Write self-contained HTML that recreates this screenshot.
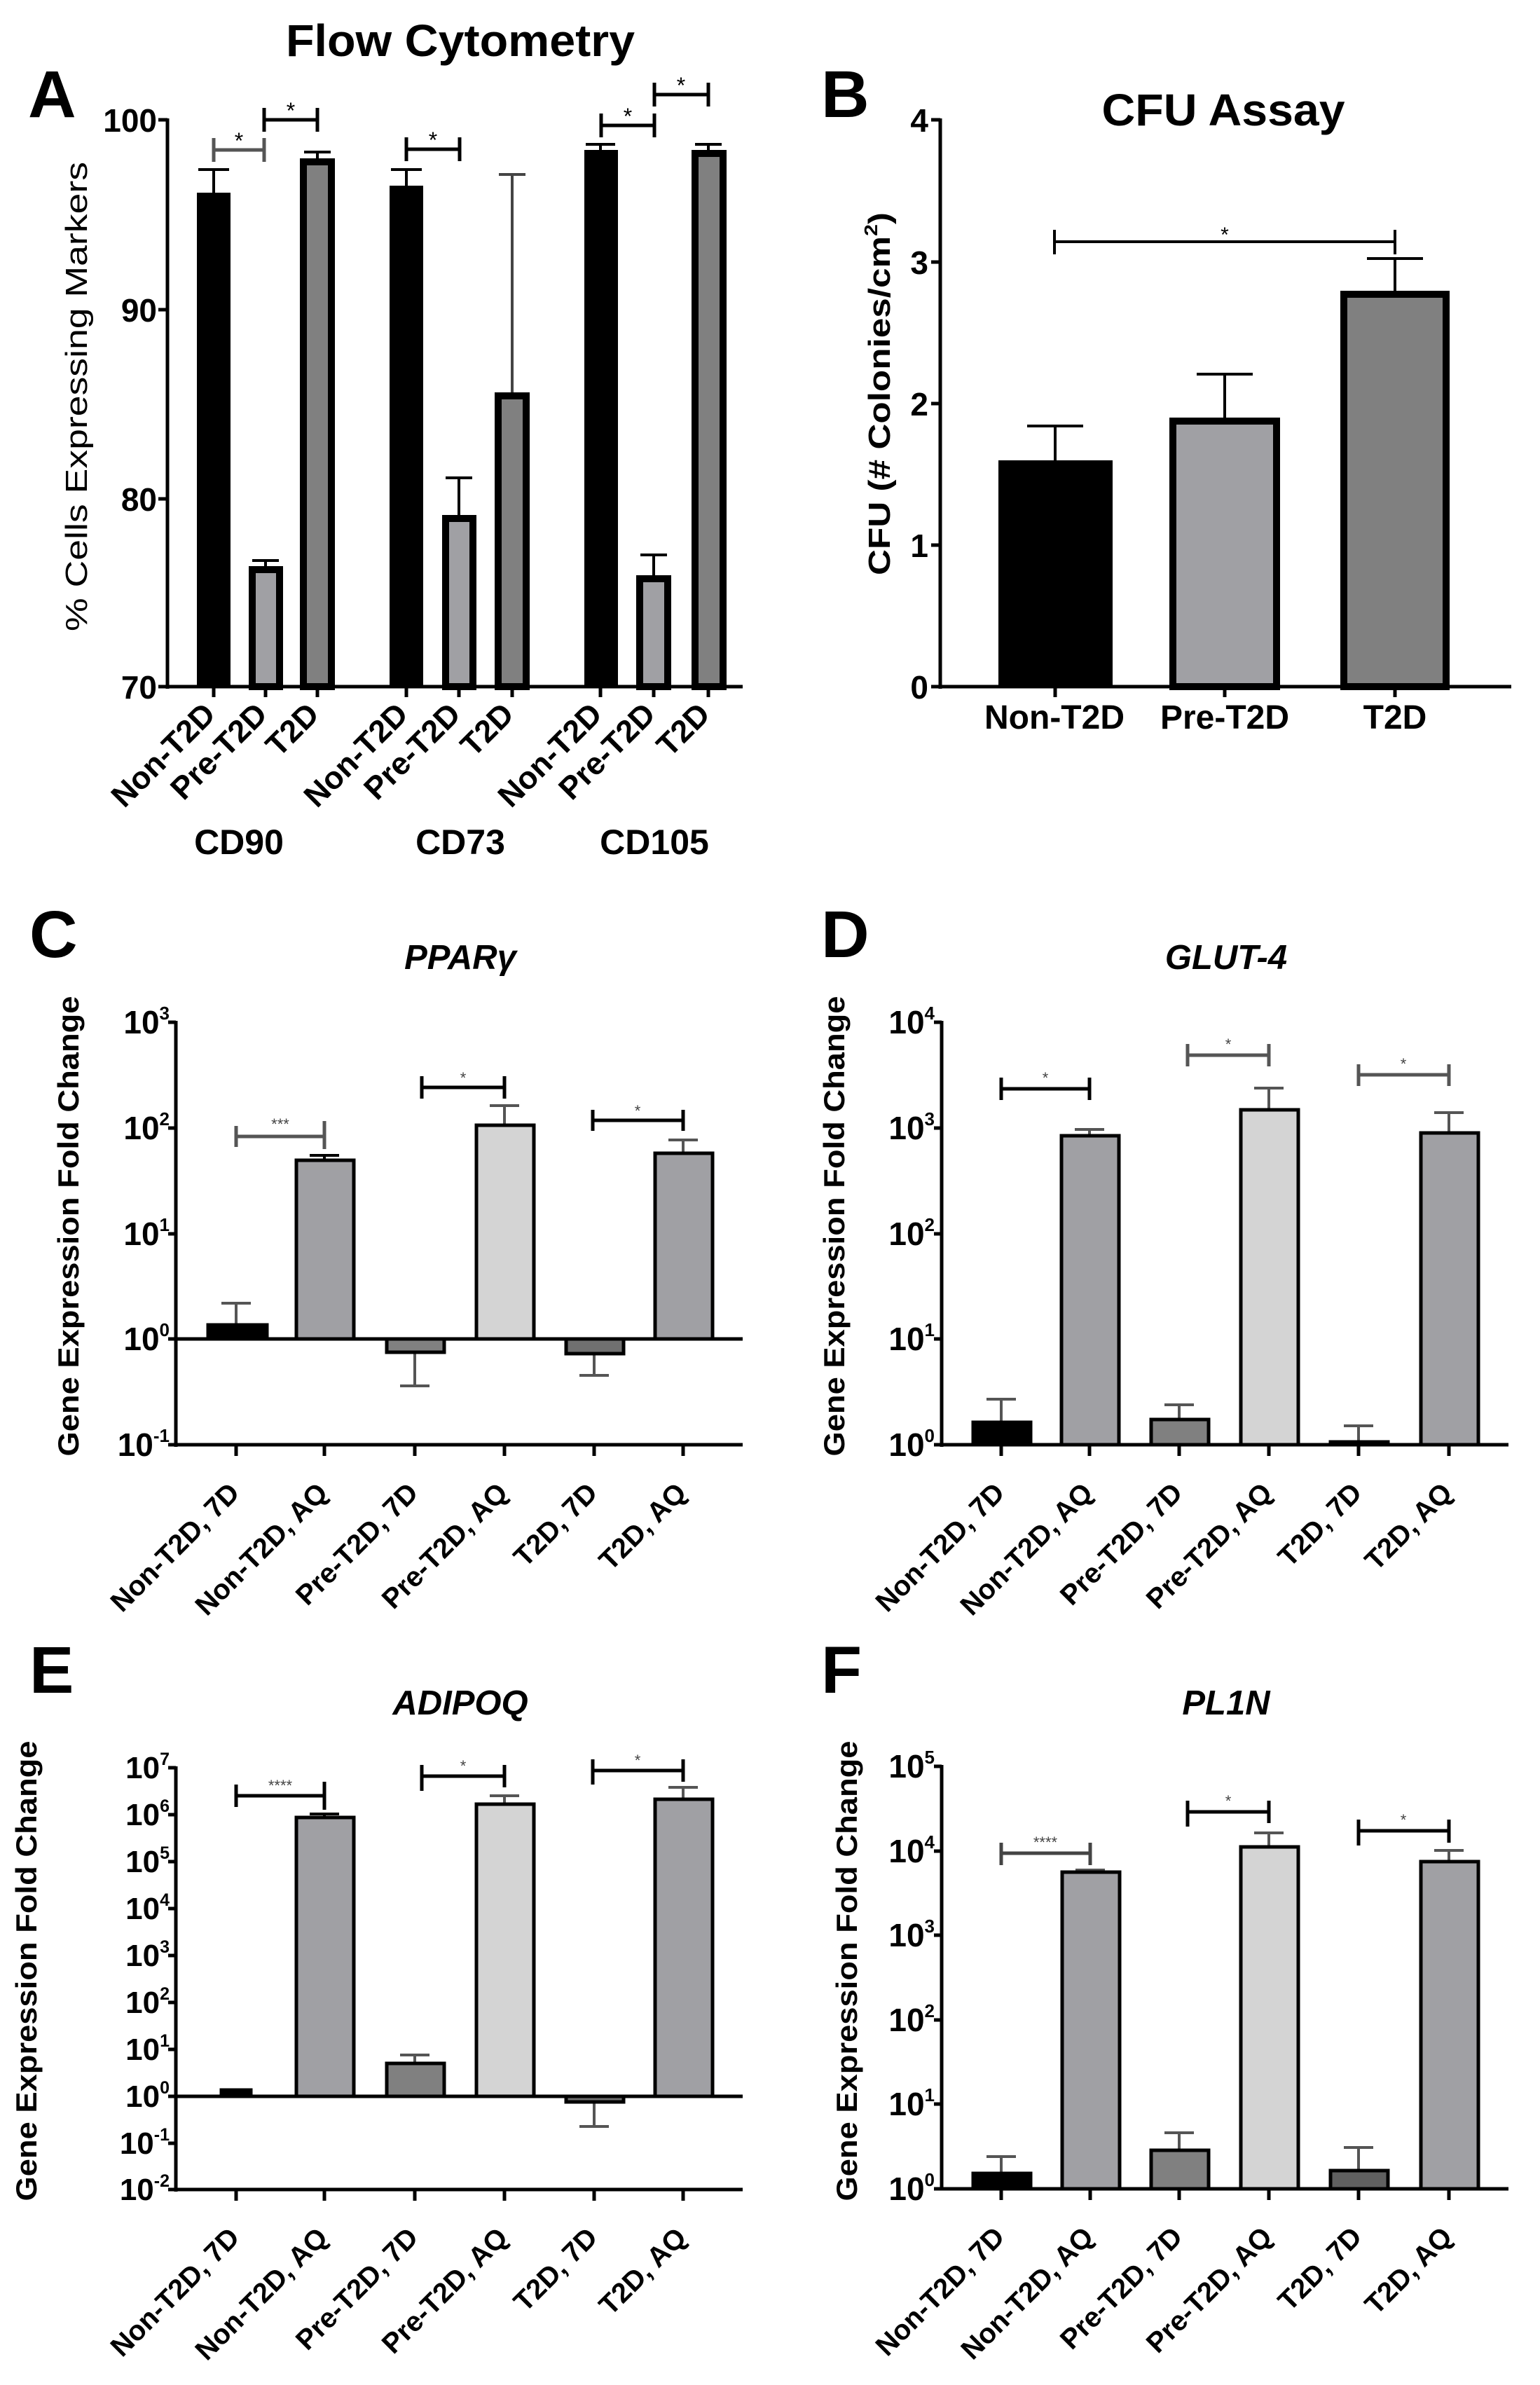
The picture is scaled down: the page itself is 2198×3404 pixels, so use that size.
<!DOCTYPE html>
<html><head><meta charset="utf-8"><style>html,body{margin:0;padding:0;background:#fff}svg{display:block}text{font-family:"Liberation Sans",Arial,sans-serif}</style></head>
<body>
<svg xmlns="http://www.w3.org/2000/svg" width="2198" height="3404" viewBox="0 0 2198 3404">
<rect width="2198" height="3404" fill="#fff"/>
<g font-weight="bold" font-size="95" fill="#000">
<text x="40" y="167">A</text><text x="1172" y="167">B</text>
<text x="42" y="1366">C</text><text x="1172" y="1366">D</text>
<text x="42" y="2416">E</text><text x="1172" y="2416">F</text>
</g>

<!-- Panel A -->
<text x="657" y="80" font-size="64" font-weight="bold" text-anchor="middle" textLength="498" lengthAdjust="spacingAndGlyphs">Flow Cytometry</text>
<g stroke="#000" fill="none" stroke-width="5">
<path d="M239 169V983M236 980H1060"/>
<path d="M226 171H239M226 442H239M226 712H239M226 980H239"/>
<path d="M305 980V995M379 980V995M453 980V995M580 980V995M655 980V995M731 980V995M857 980V995M933 980V995M1011 980V995"/>
</g>
<g font-size="46" font-weight="bold" text-anchor="end">
<text x="224" y="188">100</text><text x="224" y="459">90</text><text x="224" y="729">80</text><text x="224" y="997">70</text>
</g>
<text transform="translate(124,566) rotate(-90)" font-size="44" text-anchor="middle" textLength="670" lengthAdjust="spacingAndGlyphs">% Cells Expressing Markers</text>
<g stroke="#000" stroke-width="4">
<line x1="305" y1="275" x2="305" y2="242"/><line x1="283" y1="242" x2="327" y2="242"/>
<line x1="379" y1="808" x2="379" y2="800"/><line x1="360" y1="800" x2="398" y2="800"/>
<line x1="453" y1="226" x2="453" y2="217"/><line x1="434" y1="217" x2="472" y2="217"/>
<line x1="580" y1="265" x2="580" y2="242"/><line x1="558" y1="242" x2="602" y2="242"/>
<line x1="655" y1="735" x2="655" y2="682"/><line x1="636" y1="682" x2="674" y2="682"/>
<line x1="731" y1="560" x2="731" y2="249" stroke="#444"/><line x1="712" y1="249" x2="750" y2="249" stroke="#444"/>
<line x1="857" y1="214" x2="857" y2="206"/><line x1="836" y1="206" x2="878" y2="206"/>
<line x1="933" y1="821" x2="933" y2="792"/><line x1="914" y1="792" x2="952" y2="792"/>
<line x1="1011" y1="214" x2="1011" y2="206"/><line x1="992" y1="206" x2="1030" y2="206"/>
</g>
<g stroke="#000" stroke-width="10">
<rect x="281" y="275" width="48" height="705" fill="#000" stroke="none"/>
<rect x="360" y="813" width="39" height="167" fill="#a0a0a4"/>
<rect x="433" y="231" width="40" height="749" fill="#808080"/>
<rect x="556" y="265" width="48" height="715" fill="#000" stroke="none"/>
<rect x="636" y="740" width="39" height="240" fill="#a0a0a4"/>
<rect x="711" y="565" width="40" height="415" fill="#808080"/>
<rect x="834" y="214" width="48" height="766" fill="#000" stroke="none"/>
<rect x="913" y="826" width="40" height="154" fill="#a0a0a4"/>
<rect x="992" y="219" width="40" height="761" fill="#808080"/>
</g>
<g stroke="#000" stroke-width="5" fill="none">
<path d="M305 214H377M305 197V231M377 197V231" stroke="#555"/>
<path d="M377 171H453M377 154V188M453 154V188"/>
<path d="M580 213H656M580 196V230M656 196V230"/>
<path d="M858 179H934M858 162V196M934 162V196"/>
<path d="M934 135H1011M934 118V152M1011 118V152"/>
</g>
<g font-size="32" text-anchor="middle">
<text x="341" y="212">*</text><text x="415" y="169">*</text><text x="618" y="211">*</text><text x="896" y="177">*</text><text x="972" y="133">*</text>
</g>
<g font-size="45" font-weight="bold" text-anchor="end">
<text transform="translate(310,1022) rotate(-45)">Non-T2D</text>
<text transform="translate(384,1022) rotate(-45)">Pre-T2D</text>
<text transform="translate(458,1022) rotate(-45)">T2D</text>
<text transform="translate(585,1022) rotate(-45)">Non-T2D</text>
<text transform="translate(660,1022) rotate(-45)">Pre-T2D</text>
<text transform="translate(736,1022) rotate(-45)">T2D</text>
<text transform="translate(862,1022) rotate(-45)">Non-T2D</text>
<text transform="translate(938,1022) rotate(-45)">Pre-T2D</text>
<text transform="translate(1016,1022) rotate(-45)">T2D</text>
</g>
<g font-size="50" font-weight="bold" text-anchor="middle">
<text x="341" y="1219">CD90</text><text x="657" y="1219">CD73</text><text x="934" y="1219">CD105</text>
</g>

<!-- Panel B -->
<text x="1746" y="179" font-size="64" font-weight="bold" text-anchor="middle" textLength="347" lengthAdjust="spacingAndGlyphs">CFU Assay</text>
<g stroke="#000" fill="none" stroke-width="5">
<path d="M1342 169V983M1339 980H2157"/>
<path d="M1329 171H1342M1329 374H1342M1329 576H1342M1329 778H1342M1329 980H1342"/>
<path d="M1506 980V995M1748 980V995M1991 980V995"/>
</g>
<g font-size="46" font-weight="bold" text-anchor="end">
<text x="1325" y="188">4</text><text x="1325" y="391">3</text><text x="1325" y="593">2</text><text x="1325" y="795">1</text><text x="1325" y="997">0</text>
</g>
<text transform="translate(1270,562) rotate(-90)" font-size="44" font-weight="bold" text-anchor="middle" textLength="518" lengthAdjust="spacingAndGlyphs">CFU (# Colonies/cm<tspan font-size="26" dy="-18">2</tspan><tspan dy="18">)</tspan></text>
<g stroke="#000" stroke-width="4">
<line x1="1506" y1="657" x2="1506" y2="608"/><line x1="1466" y1="608" x2="1546" y2="608"/>
<line x1="1748" y1="596" x2="1748" y2="534"/><line x1="1708" y1="534" x2="1788" y2="534"/>
<line x1="1991" y1="415" x2="1991" y2="369"/><line x1="1951" y1="369" x2="2031" y2="369"/>
</g>
<rect x="1425" y="657" width="163" height="323" fill="#000"/>
<rect x="1674" y="601" width="148" height="379" fill="#a0a0a4" stroke="#000" stroke-width="10"/>
<rect x="1918" y="420" width="146" height="560" fill="#808080" stroke="#000" stroke-width="10"/>
<path d="M1505 345H1991M1505 328V363M1991 328V363" stroke="#000" stroke-width="4" fill="none"/>
<text x="1748" y="345" font-size="30" text-anchor="middle">*</text>
<g font-size="48" font-weight="bold" text-anchor="middle">
<text x="1505" y="1040">Non-T2D</text><text x="1748" y="1040">Pre-T2D</text><text x="1991" y="1040">T2D</text>
</g>

<!-- Panel C -->
<text x="657" y="1383" font-size="49" font-weight="bold" font-style="italic" text-anchor="middle">PPARγ</text>
<g stroke="#000" fill="none" stroke-width="5">
<path d="M251 1457V2065M249 2062H1060M249 1911H1060"/>
<path d="M240 1459H251M240 1610H251M240 1761H251M240 1911H251M240 2062H251"/>
<path d="M337 2062V2078M463 2062V2078M592 2062V2078M720 2062V2078M848 2062V2078M975 2062V2078"/>
</g>
<g font-size="46" font-weight="bold" text-anchor="end">
<text x="242" y="1475">10<tspan font-size="26" dy="-20">3</tspan></text>
<text x="242" y="1626">10<tspan font-size="26" dy="-20">2</tspan></text>
<text x="242" y="1777">10<tspan font-size="26" dy="-20">1</tspan></text>
<text x="242" y="1927">10<tspan font-size="26" dy="-20">0</tspan></text>
<text x="242" y="2078">10<tspan font-size="26" dy="-20">-1</tspan></text>
</g>
<text transform="translate(112,1750) rotate(-90)" font-size="42" font-weight="bold" text-anchor="middle" textLength="657" lengthAdjust="spacingAndGlyphs">Gene Expression Fold Change</text>
<g stroke="#555" stroke-width="4">
<line x1="337" y1="1890" x2="337" y2="1860"/><line x1="316" y1="1860" x2="358" y2="1860"/>
<line x1="463" y1="1655" x2="463" y2="1649" stroke="#000"/><line x1="442" y1="1649" x2="484" y2="1649" stroke="#000"/>
<line x1="592" y1="1930" x2="592" y2="1978"/><line x1="571" y1="1978" x2="613" y2="1978"/>
<line x1="720" y1="1605" x2="720" y2="1578"/><line x1="699" y1="1578" x2="741" y2="1578"/>
<line x1="848" y1="1932" x2="848" y2="1963"/><line x1="827" y1="1963" x2="869" y2="1963"/>
<line x1="975" y1="1645" x2="975" y2="1627"/><line x1="954" y1="1627" x2="996" y2="1627"/>
</g>
<g stroke="#000" stroke-width="5">
<rect x="297" y="1891" width="84" height="20" fill="#000"/>
<rect x="423" y="1656" width="82" height="255" fill="#a0a0a4"/>
<rect x="552" y="1911" width="82" height="19" fill="#808080"/>
<rect x="680" y="1606" width="82" height="305" fill="#d4d4d4"/>
<rect x="808" y="1911" width="82" height="21" fill="#707070"/>
<rect x="935" y="1646" width="82" height="265" fill="#a0a0a4"/>
</g>
<g stroke-width="5" fill="none">
<path d="M337 1622H463M337 1607V1637M463 1600V1640" stroke="#555"/>
<path d="M602 1552H720M602 1536V1568M720 1536V1568" stroke="#000"/>
<path d="M846 1599H975M846 1584V1614M975 1584V1614" stroke="#000"/>
</g>
<g font-size="22" text-anchor="middle" fill="#444">
<text x="400" y="1612">***</text><text x="661" y="1546">*</text><text x="910" y="1593">*</text>
</g>
<g font-size="40" font-weight="bold" text-anchor="end">
<text transform="translate(344,2133) rotate(-45)">Non-T2D, 7D</text>
<text transform="translate(470,2133) rotate(-45)">Non-T2D, AQ</text>
<text transform="translate(599,2133) rotate(-45)">Pre-T2D, 7D</text>
<text transform="translate(727,2133) rotate(-45)">Pre-T2D, AQ</text>
<text transform="translate(855,2133) rotate(-45)">T2D, 7D</text>
<text transform="translate(982,2133) rotate(-45)">T2D, AQ</text>
</g>

<!-- Panel D -->
<text x="1750" y="1383" font-size="49" font-weight="bold" font-style="italic" text-anchor="middle">GLUT-4</text>
<g stroke="#000" fill="none" stroke-width="5">
<path d="M1344 1457V2065M1342 2062H2153"/>
<path d="M1333 1459H1344M1333 1610H1344M1333 1761H1344M1333 1911H1344M1333 2062H1344"/>
<path d="M1429 2062V2078M1555 2062V2078M1683 2062V2078M1811 2062V2078M1939 2062V2078M2068 2062V2078"/>
</g>
<g font-size="46" font-weight="bold" text-anchor="end">
<text x="1334" y="1475">10<tspan font-size="26" dy="-20">4</tspan></text>
<text x="1334" y="1626">10<tspan font-size="26" dy="-20">3</tspan></text>
<text x="1334" y="1777">10<tspan font-size="26" dy="-20">2</tspan></text>
<text x="1334" y="1927">10<tspan font-size="26" dy="-20">1</tspan></text>
<text x="1334" y="2078">10<tspan font-size="26" dy="-20">0</tspan></text>
</g>
<text transform="translate(1205,1750) rotate(-90)" font-size="42" font-weight="bold" text-anchor="middle" textLength="657" lengthAdjust="spacingAndGlyphs">Gene Expression Fold Change</text>
<g stroke="#555" stroke-width="4">
<line x1="1429" y1="2030" x2="1429" y2="1997"/><line x1="1408" y1="1997" x2="1450" y2="1997"/>
<line x1="1555" y1="1621" x2="1555" y2="1612"/><line x1="1534" y1="1612" x2="1576" y2="1612"/>
<line x1="1683" y1="2026" x2="1683" y2="2005"/><line x1="1662" y1="2005" x2="1704" y2="2005"/>
<line x1="1811" y1="1584" x2="1811" y2="1553"/><line x1="1790" y1="1553" x2="1832" y2="1553"/>
<line x1="1939" y1="2059" x2="1939" y2="2035"/><line x1="1918" y1="2035" x2="1960" y2="2035"/>
<line x1="2068" y1="1617" x2="2068" y2="1588"/><line x1="2047" y1="1588" x2="2089" y2="1588"/>
</g>
<g stroke="#000" stroke-width="5">
<rect x="1389" y="2030" width="82" height="32" fill="#000"/>
<rect x="1515" y="1621" width="82" height="441" fill="#a0a0a4"/>
<rect x="1643" y="2026" width="82" height="36" fill="#808080"/>
<rect x="1771" y="1584" width="82" height="478" fill="#d4d4d4"/>
<rect x="1899" y="2058" width="82" height="4" fill="#707070"/>
<rect x="2028" y="1617" width="82" height="445" fill="#a0a0a4"/>
</g>
<g stroke-width="5" fill="none">
<path d="M1429 1554H1555M1429 1538V1570M1555 1538V1570" stroke="#000"/>
<path d="M1695 1506H1811M1695 1490V1522M1811 1490V1522" stroke="#555"/>
<path d="M1939 1534H2068M1939 1519V1550M2068 1519V1550" stroke="#555"/>
</g>
<g font-size="22" text-anchor="middle" fill="#444">
<text x="1492" y="1546">*</text><text x="1753" y="1498">*</text><text x="2003" y="1526">*</text>
</g>
<g font-size="40" font-weight="bold" text-anchor="end">
<text transform="translate(1436,2133) rotate(-45)">Non-T2D, 7D</text>
<text transform="translate(1562,2133) rotate(-45)">Non-T2D, AQ</text>
<text transform="translate(1690,2133) rotate(-45)">Pre-T2D, 7D</text>
<text transform="translate(1818,2133) rotate(-45)">Pre-T2D, AQ</text>
<text transform="translate(1946,2133) rotate(-45)">T2D, 7D</text>
<text transform="translate(2075,2133) rotate(-45)">T2D, AQ</text>
</g>

<!-- Panel E -->
<text x="657" y="2447" font-size="49" font-weight="bold" font-style="italic" text-anchor="middle">ADIPOQ</text>
<g stroke="#000" fill="none" stroke-width="5">
<path d="M251 2521V3128M249 3125H1060M249 2992H1060"/>
<path d="M240 2523H251M240 2590H251M240 2657H251M240 2724H251M240 2791H251M240 2858H251M240 2925H251M240 2992H251M240 3059H251M240 3125H251"/>
<path d="M337 3125V3141M463 3125V3141M592 3125V3141M720 3125V3141M848 3125V3141M975 3125V3141"/>
</g>
<g font-size="44" font-weight="bold" text-anchor="end">
<text x="242" y="2538">10<tspan font-size="25" dy="-19">7</tspan></text>
<text x="242" y="2605">10<tspan font-size="25" dy="-19">6</tspan></text>
<text x="242" y="2672">10<tspan font-size="25" dy="-19">5</tspan></text>
<text x="242" y="2739">10<tspan font-size="25" dy="-19">4</tspan></text>
<text x="242" y="2806">10<tspan font-size="25" dy="-19">3</tspan></text>
<text x="242" y="2873">10<tspan font-size="25" dy="-19">2</tspan></text>
<text x="242" y="2940">10<tspan font-size="25" dy="-19">1</tspan></text>
<text x="242" y="3007">10<tspan font-size="25" dy="-19">0</tspan></text>
<text x="242" y="3074">10<tspan font-size="25" dy="-19">-1</tspan></text>
<text x="242" y="3140">10<tspan font-size="25" dy="-19">-2</tspan></text>
</g>
<text transform="translate(52,2813) rotate(-90)" font-size="42" font-weight="bold" text-anchor="middle" textLength="657" lengthAdjust="spacingAndGlyphs">Gene Expression Fold Change</text>
<g stroke="#555" stroke-width="4">
<line x1="463" y1="2594" x2="463" y2="2589" stroke="#000"/><line x1="442" y1="2589" x2="484" y2="2589" stroke="#000"/>
<line x1="592" y1="2945" x2="592" y2="2933"/><line x1="571" y1="2933" x2="613" y2="2933"/>
<line x1="720" y1="2575" x2="720" y2="2563"/><line x1="699" y1="2563" x2="741" y2="2563"/>
<line x1="848" y1="3000" x2="848" y2="3035"/><line x1="827" y1="3035" x2="869" y2="3035"/>
<line x1="975" y1="2568" x2="975" y2="2551"/><line x1="954" y1="2551" x2="996" y2="2551"/>
</g>
<g stroke="#000" stroke-width="5">
<rect x="316" y="2983" width="42" height="9" fill="#000"/>
<rect x="423" y="2594" width="82" height="398" fill="#a0a0a4"/>
<rect x="552" y="2945" width="82" height="47" fill="#808080"/>
<rect x="680" y="2575" width="82" height="417" fill="#d4d4d4"/>
<rect x="808" y="2992" width="82" height="8" fill="#707070"/>
<rect x="935" y="2568" width="82" height="424" fill="#a0a0a4"/>
</g>
<g stroke="#000" stroke-width="5" fill="none">
<path d="M337 2563H463M337 2547V2579M463 2543V2583"/>
<path d="M602 2535H720M602 2519V2556M720 2519V2551"/>
<path d="M846 2527H975M846 2511V2547M975 2511V2543"/>
</g>
<g font-size="22" text-anchor="middle" fill="#444">
<text x="400" y="2556">****</text><text x="661" y="2528">*</text><text x="910" y="2520">*</text>
</g>
<g font-size="40" font-weight="bold" text-anchor="end">
<text transform="translate(344,3196) rotate(-45)">Non-T2D, 7D</text>
<text transform="translate(470,3196) rotate(-45)">Non-T2D, AQ</text>
<text transform="translate(599,3196) rotate(-45)">Pre-T2D, 7D</text>
<text transform="translate(727,3196) rotate(-45)">Pre-T2D, AQ</text>
<text transform="translate(855,3196) rotate(-45)">T2D, 7D</text>
<text transform="translate(982,3196) rotate(-45)">T2D, AQ</text>
</g>

<!-- Panel F -->
<text x="1750" y="2447" font-size="49" font-weight="bold" font-style="italic" text-anchor="middle">PL1N</text>
<g stroke="#000" fill="none" stroke-width="5">
<path d="M1344 2519V3126M1342 3124H2153"/>
<path d="M1333 2521H1344M1333 2642H1344M1333 2762H1344M1333 2883H1344M1333 3003H1344M1333 3124H1344"/>
<path d="M1429 3124V3140M1556 3124V3140M1683 3124V3140M1811 3124V3140M1939 3124V3140M2068 3124V3140"/>
</g>
<g font-size="46" font-weight="bold" text-anchor="end">
<text x="1334" y="2537">10<tspan font-size="26" dy="-20">5</tspan></text>
<text x="1334" y="2658">10<tspan font-size="26" dy="-20">4</tspan></text>
<text x="1334" y="2778">10<tspan font-size="26" dy="-20">3</tspan></text>
<text x="1334" y="2899">10<tspan font-size="26" dy="-20">2</tspan></text>
<text x="1334" y="3019">10<tspan font-size="26" dy="-20">1</tspan></text>
<text x="1334" y="3140">10<tspan font-size="26" dy="-20">0</tspan></text>
</g>
<text transform="translate(1223,2813) rotate(-90)" font-size="42" font-weight="bold" text-anchor="middle" textLength="657" lengthAdjust="spacingAndGlyphs">Gene Expression Fold Change</text>
<g stroke="#555" stroke-width="4">
<line x1="1429" y1="3102" x2="1429" y2="3078"/><line x1="1408" y1="3078" x2="1450" y2="3078"/>
<line x1="1556" y1="2672" x2="1556" y2="2669"/><line x1="1535" y1="2669" x2="1577" y2="2669"/>
<line x1="1683" y1="3069" x2="1683" y2="3044"/><line x1="1662" y1="3044" x2="1704" y2="3044"/>
<line x1="1811" y1="2636" x2="1811" y2="2616"/><line x1="1790" y1="2616" x2="1832" y2="2616"/>
<line x1="1939" y1="3098" x2="1939" y2="3065"/><line x1="1918" y1="3065" x2="1960" y2="3065"/>
<line x1="2068" y1="2657" x2="2068" y2="2641"/><line x1="2047" y1="2641" x2="2089" y2="2641"/>
</g>
<g stroke="#000" stroke-width="5">
<rect x="1389" y="3102" width="82" height="22" fill="#000"/>
<rect x="1516" y="2672" width="82" height="452" fill="#a0a0a4"/>
<rect x="1643" y="3069" width="82" height="55" fill="#808080"/>
<rect x="1771" y="2636" width="82" height="488" fill="#d4d4d4"/>
<rect x="1899" y="3098" width="82" height="26" fill="#606060"/>
<rect x="2028" y="2657" width="82" height="467" fill="#a0a0a4"/>
</g>
<g stroke-width="5" fill="none">
<path d="M1429 2645H1556M1429 2630V2662M1556 2630V2662" stroke="#444"/>
<path d="M1695 2586H1811M1695 2570V2607M1811 2570V2602" stroke="#000"/>
<path d="M1939 2613H2068M1939 2597V2634M2068 2597V2630" stroke="#000"/>
</g>
<g font-size="22" text-anchor="middle" fill="#444">
<text x="1492" y="2637">****</text><text x="1753" y="2578">*</text><text x="2003" y="2605">*</text>
</g>
<g font-size="40" font-weight="bold" text-anchor="end">
<text transform="translate(1436,3195) rotate(-45)">Non-T2D, 7D</text>
<text transform="translate(1563,3195) rotate(-45)">Non-T2D, AQ</text>
<text transform="translate(1690,3195) rotate(-45)">Pre-T2D, 7D</text>
<text transform="translate(1818,3195) rotate(-45)">Pre-T2D, AQ</text>
<text transform="translate(1946,3195) rotate(-45)">T2D, 7D</text>
<text transform="translate(2075,3195) rotate(-45)">T2D, AQ</text>
</g>
</svg>
</body></html>
